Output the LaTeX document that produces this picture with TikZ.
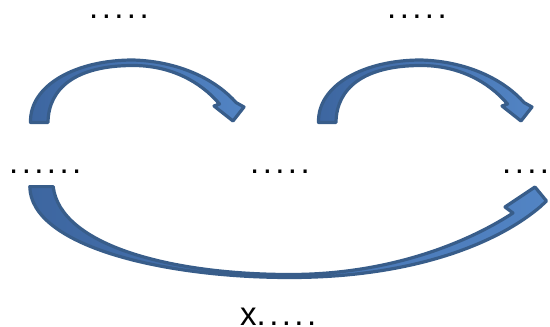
\documentclass[tikz,border=0pt]{standalone}
\usepackage{fontspec}
\setmainfont{Liberation Sans}
\usetikzlibrary{positioning}

\definecolor{arrowline}{HTML}{385D8A}
\definecolor{arrowdark}{HTML}{3D66A0}
\definecolor{arrowlight}{HTML}{5284C4}

\begin{document}
\begin{tikzpicture}[
  x=1pt,y=-1pt,
  line join=round,
  bendarrow/.style={draw=arrowline,line width=3.2pt,left color=arrowdark,right color=arrowlight},
  dots/.style={inner sep=0pt,anchor=base west,text height=4pt,text depth=0pt,
    font=\fontsize{33}{36}\selectfont\addfontfeature{LetterSpace=10.4}},
  caption/.style={inner sep=0pt,anchor=base west,text height=17pt,text depth=0pt,
    font=\fontsize{33}{36}\selectfont}
]
\useasboundingbox (0,0) rectangle (550,327);

% small arc from tail to head
\def\toparc{(30.5,122.4) .. controls (29.5,85) and (76,60) .. (133,60)
  .. controls (184,61.5) and (219,83) .. (236,102.5)
  -- (244,107) -- (233,121) -- (214,106) -- (219.5,104)
  .. controls (200,81) and (170,65.5) .. (133,65.5)
  .. controls (76,65.5) and (48.5,88) .. (48,122.4) -- cycle}

% left upper arrow
\begin{scope}
  \path[bendarrow] \toparc;
\end{scope}

% right upper arrow
\begin{scope}[shift={(288,0)}]
  \path[bendarrow] \toparc;
\end{scope}

% lower arrow
\path[bendarrow] (29.8,186.6) .. controls (30.5,245) and (160,277.5) .. (290,277.5)
  .. controls (410,277.5) and (495,245) .. (540,207)
  -- (546.5,201) -- (535,187) -- (505,207) -- (513,213)
  .. controls (478,236) and (400,274.5) .. (290,274.5)
  .. controls (170,274.5) and (60,245) .. (53.2,186.6) -- cycle;

% labels
\node[dots] (topleft)  at (89,18.7)  {.....};
\node[dots] (topright) at (387,18.7) {.....};
\node[dots] (left)     at (9,173)    {......};
\node[dots] (middle)   at (250,173)  {.....};
\node[dots] (right)    at (502,173)  {....};
\node[caption] (bottom) at (240,325) {x{\addfontfeature{LetterSpace=10.4}.....}};

\end{tikzpicture}
\end{document}
